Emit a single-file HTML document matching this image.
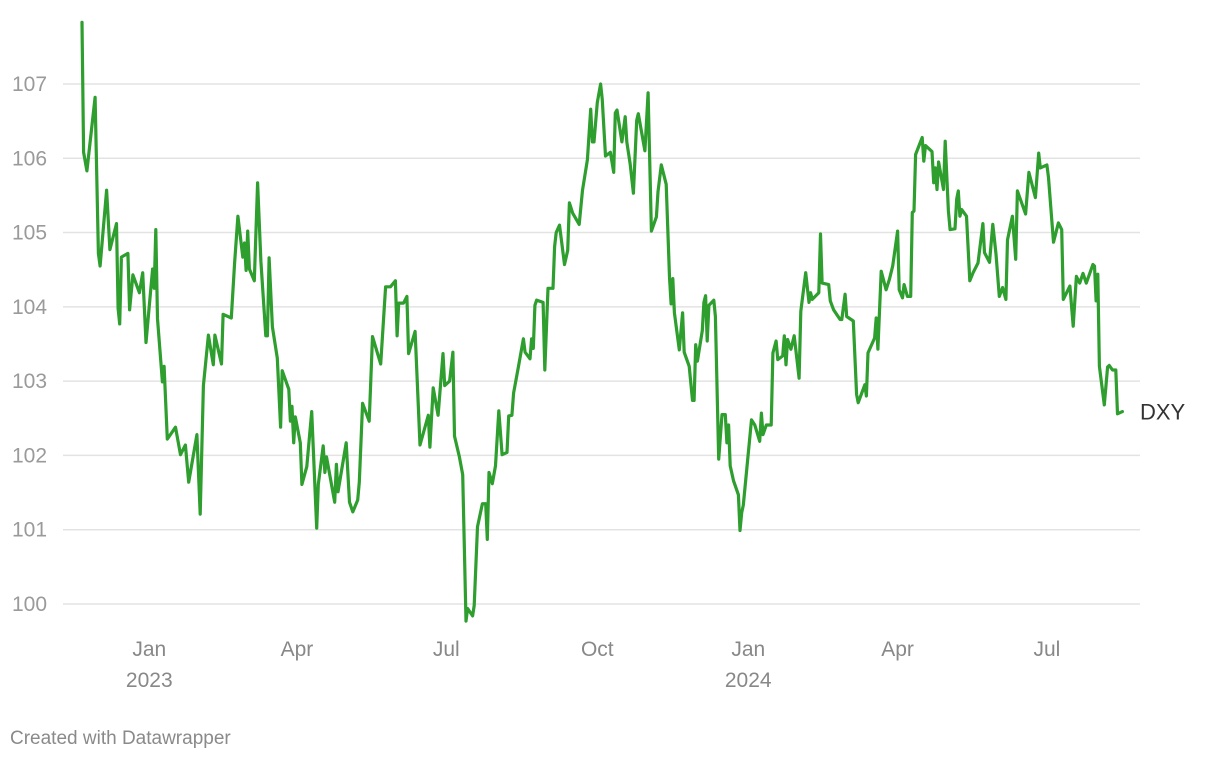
<!DOCTYPE html>
<html><head><meta charset="utf-8">
<style>
html,body{margin:0;padding:0;background:#fff;width:1220px;height:760px;overflow:hidden;font-family:"Liberation Sans",Arial,sans-serif;}
svg{display:block}
</style></head>
<body>
<svg id="chart" width="1220" height="760" xmlns="http://www.w3.org/2000/svg">
<g id="grid"></g>
<g id="yaxis"></g>
<g id="xaxis"></g>
<g id="series"></g>
<text x="10" y="744" font-size="19" fill="#8a8a8a">Created with Datawrapper</text>
</svg>
<script>
// days since 2022-11-21
const days = [0,1,3,8,10,11,15,17,21,22,23,24,28,29,31,35,37,39,43,44,45,46,49,50,52,57,60,63,65,70,72,74,77,80,81,85,86,91,93,95,98,99,100,101,102,105,107,109,112,113,114,116,119,121,122,126,127,128,129,130,133,134,137,140,143,144,147,148,149,154,155,156,161,163,165,168,169,171,175,177,182,185,188,191,192,193,196,198,199,203,206,211,212,214,217,220,221,224,226,227,230,232,234,235,238,239,241,244,246,247,248,250,252,254,256,259,260,262,263,266,269,270,273,274,275,276,277,281,282,284,287,288,289,291,294,296,297,299,303,305,308,310,311,312,314,316,317,319,322,324,325,326,329,331,332,334,336,338,339,343,345,347,350,351,353,356,358,359,360,361,364,366,367,370,372,373,374,375,378,379,380,381,382,385,386,388,390,392,393,394,395,397,400,401,402,403,408,410,413,414,415,417,420,421,423,424,427,428,429,430,432,434,437,438,441,443,444,445,449,450,451,455,456,458,462,463,465,466,470,472,473,477,478,479,483,484,485,487,490,492,494,497,498,500,501,503,505,506,507,508,512,513,514,518,519,520,521,522,525,526,528,529,532,533,534,535,536,539,541,543,546,549,550,553,555,557,559,561,563,564,567,569,570,575,577,581,583,584,588,589,592,595,597,598,602,604,606,608,610,612,616,617,618,619,620,623,625,626,628,630,631,634];
const values = [107.83,106.08,105.83,106.82,104.72,104.55,105.57,104.77,105.12,103.98,103.77,104.67,104.72,103.96,104.43,104.19,104.46,103.52,104.51,104.25,105.04,103.84,102.99,103.2,102.22,102.38,102.01,102.14,101.64,102.28,101.21,102.94,103.62,103.22,103.62,103.23,103.9,103.85,104.59,105.22,104.67,104.86,104.49,105.02,104.51,104.35,105.67,104.61,103.61,103.61,104.66,103.73,103.31,102.38,103.14,102.89,102.46,102.66,102.17,102.52,102.17,101.61,101.85,102.59,101.02,101.61,102.13,101.77,101.98,101.37,101.88,101.51,102.17,101.37,101.24,101.4,101.64,102.7,102.46,103.6,103.23,104.27,104.27,104.35,103.61,104.05,104.05,104.14,103.37,103.67,102.14,102.54,102.11,102.91,102.54,103.37,102.94,103.0,103.39,102.26,101.98,101.74,99.77,99.94,99.84,99.98,101.04,101.35,101.35,100.87,101.77,101.62,101.86,102.6,102.01,102.04,102.53,102.54,102.84,103.2,103.57,103.39,103.3,103.57,103.44,104.02,104.09,104.06,103.15,104.25,104.25,104.81,105.0,105.1,104.57,104.76,105.4,105.26,105.11,105.57,105.98,106.66,106.22,106.22,106.75,107.0,106.8,106.03,106.08,105.81,106.61,106.65,106.22,106.56,106.22,105.93,105.53,106.51,106.6,106.1,106.88,105.02,105.21,105.55,105.91,105.65,104.4,104.04,104.38,103.92,103.42,103.92,103.39,103.2,102.74,102.74,103.49,103.27,103.68,104.06,104.15,103.54,104.02,104.09,103.87,101.95,102.55,102.55,102.17,102.41,101.86,101.66,101.47,100.99,101.23,101.33,102.48,102.41,102.19,102.57,102.28,102.41,102.41,103.38,103.54,103.29,103.34,103.61,103.22,103.56,103.43,103.61,103.04,103.94,104.46,104.06,104.19,104.1,104.19,104.98,104.32,104.3,104.08,103.96,103.83,103.83,104.17,103.87,103.81,102.82,102.71,102.95,102.8,103.38,103.58,103.85,103.43,104.48,104.23,104.37,104.55,105.02,104.23,104.12,104.3,104.14,104.14,105.27,105.29,106.05,106.28,105.96,106.17,106.09,105.67,105.87,105.58,105.95,105.58,106.23,105.29,105.04,105.05,105.45,105.56,105.22,105.31,105.22,104.35,104.46,104.59,105.12,104.73,104.6,105.11,104.71,104.14,104.26,104.1,104.9,105.22,104.64,105.56,105.25,105.81,105.47,106.07,105.87,105.91,105.74,104.87,105.13,105.04,104.1,104.28,103.74,104.41,104.32,104.45,104.32,104.57,104.55,104.08,104.44,103.2,102.68,103.19,103.21,103.15,103.15,102.56,102.59];
const yTicks = [100,101,102,103,104,105,106,107];
const xTickDays = [41,131,222,314,406,497,588];
const xTickMonths = ["Jan","Apr","Jul","Oct","Jan","Apr","Jul"];
const xTickYears = ["2023","","","","2024","",""];
const seriesLabel = "DXY";

const NS = "http://www.w3.org/2000/svg";
function xs(d){ return 82 + d * 1.641; }
function ys(v){ return 604 - (v - 100) * 74.29; }
function mk(tag, attrs, parent){ const e = document.createElementNS(NS, tag); for (const k in attrs) e.setAttribute(k, attrs[k]); parent.appendChild(e); return e; }

const grid = document.getElementById('grid');
const yaxis = document.getElementById('yaxis');
const xaxis = document.getElementById('xaxis');
const series = document.getElementById('series');

yTicks.forEach(t => {
  const l = mk('line', {x1:63, x2:1140, y1:ys(t), y2:ys(t), stroke:'#e3e3e3', 'stroke-width':1.5}, grid);
  
  
  const tx = mk('text', {x:12, y:ys(t)+7, 'font-size':21, fill:'#9a9a9a'}, yaxis);
  tx.textContent = t;
  
  
});

xTickDays.forEach((d, i) => {
  const t = mk('text', {x:xs(d), y:656, 'font-size':21, fill:'#888', 'text-anchor':'middle'}, xaxis);
  t.textContent = xTickMonths[i];
  
  
  if (xTickYears[i]) {
    const y = mk('text', {x:xs(d), y:687, 'font-size':21, fill:'#888', 'text-anchor':'middle'}, xaxis);
    y.textContent = xTickYears[i];
    
    
  }
});

let dstr = '';
days.forEach((d, i) => { dstr += (i ? 'L' : 'M') + xs(d).toFixed(1) + ',' + ys(values[i]).toFixed(1); });
const path = mk('path', {d:dstr, fill:'none', stroke:'#2e9e2e', 'stroke-width':3.2, 'stroke-linejoin':'round', 'stroke-linecap':'round'}, series);



const last = values[values.length - 1];
const lbl = mk('text', {x:1140, y:ys(last)+8, 'font-size':22, fill:'#333'}, series);
lbl.textContent = seriesLabel;


</script>
</body></html>
